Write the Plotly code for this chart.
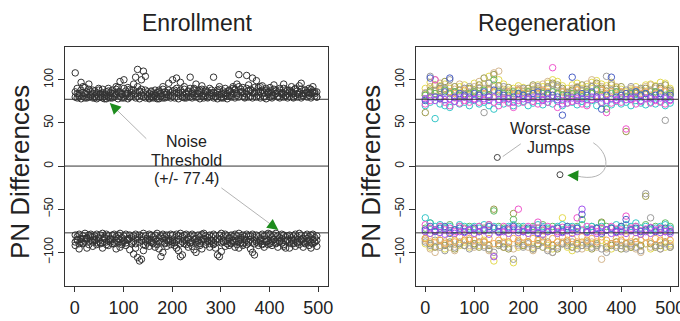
import plotly.graph_objects as go

FONT = "Liberation Sans, Arial, sans-serif"

# ---------------- Enrollment panel data (sample index vs PN difference) ----------------
XE = list(range(1, 501, 4))

enr_up_a = [108, 84, 80, 97, 92, 79, 86, 95, 81, 88,
            79, 83, 90, 80, 85, 78, 82, 87, 79, 84,
            81, 92, 86, 98, 79, 100, 84, 91, 80, 88,
            95, 103, 112, 86, 100, 110, 104, 83, 79, 86,
            80, 84, 78, 88, 81, 92, 79, 85, 96, 82,
            100, 88, 102, 84, 97, 80, 92, 79, 86, 103,
            84, 90, 95, 80, 88, 93, 81, 86, 79, 90,
            85, 103, 80, 88, 92, 79, 84, 90, 81, 87,
            82, 92, 89, 95, 106, 85, 91, 80, 105, 94,
            88, 102, 84, 99, 91, 86, 93, 80, 88, 85,
            91, 82, 94, 87, 80, 90, 84, 95, 81, 88,
            86, 92, 80, 89, 84, 93, 96, 82, 88, 85,
            90, 84, 92, 86, 80]
enr_up_b = [80, 79, 82, 78, 81, 84, 79, 80, 83, 79,
            81, 78, 80, 83, 79, 81, 78, 80, 82, 79,
            80, 83, 78, 81, 84, 79, 82, 78, 80, 81,
            83, 79, 81, 78, 82, 80, 79, 81, 78, 80,
            79, 82, 80, 78, 81, 79, 83, 80, 82, 79,
            81, 79, 85, 78, 82, 80, 79, 83, 81, 80,
            79, 82, 80, 84, 78, 81, 79, 82, 80, 81,
            82, 79, 81, 78, 83, 80, 79, 82, 78, 81,
            80, 84, 79, 82, 80, 86, 81, 79, 83, 80,
            81, 79, 85, 80, 82, 79, 84, 81, 78, 83,
            80, 79, 82, 84, 81, 79, 83, 80, 82, 79,
            81, 84, 79, 82, 80, 83, 79, 81, 84, 80,
            82, 79, 85, 81, 80]
enr_up_c = [86, 90, 84, 88, 85, 91, 83, 89, 86, 84,
            87, 85, 88, 84, 89, 83, 86, 90, 85, 88,
            84, 89, 91, 86, 83, 90, 87, 84, 89, 85,
            88, 84, 92, 87, 89, 85, 88, 86, 84, 87,
            83, 88, 85, 86, 84, 89, 86, 83, 88, 85,
            87, 84, 90, 86, 88, 85, 89, 84, 87, 90,
            86, 88, 84, 87, 85, 89, 84, 88, 86, 84,
            88, 85, 84, 86, 89, 83, 87, 85, 84, 88,
            86, 90, 88, 84, 92, 89, 86, 84, 90, 87,
            89, 85, 91, 87, 86, 92, 88, 85, 90, 86,
            87, 85, 89, 84, 86, 88, 85, 90, 86, 84,
            88, 86, 84, 90, 87, 85, 89, 84, 88, 86,
            85, 89, 87, 84, 86]
enr_lo_a = [-92, -85, -96, -88, -90, -84, -95, -87, -82, -93,
            -86, -91, -84, -89, -95, -83, -88, -92, -85, -90,
            -88, -96, -84, -94, -89, -86, -92, -85, -97, -90,
            -102, -95, -106, -110, -108, -98, -92, -86, -93, -88,
            -90, -94, -87, -96, -105, -100, -89, -93, -86, -91,
            -88, -92, -95, -98, -105, -103, -90, -86, -94, -89,
            -93, -97, -100, -88, -92, -96, -85, -91, -87, -94,
            -86, -90, -95, -103, -105, -99, -88, -93, -87, -92,
            -90, -88, -94, -86, -95, -89, -92, -85, -91, -87,
            -96, -100, -103, -88, -92, -86, -90, -94, -87, -91,
            -88, -92, -85, -90, -94, -87, -89, -93, -95, -86,
            -95, -90, -86, -93, -88, -91, -85, -94, -89, -87,
            -92, -95, -90, -88, -93]
enr_lo_b = [-80, -82, -79, -84, -81, -78, -83, -80, -79, -82,
            -81, -79, -83, -80, -78, -82, -79, -81, -84, -80,
            -79, -82, -80, -78, -83, -81, -79, -84, -80, -82,
            -81, -79, -83, -80, -82, -78, -81, -84, -79, -80,
            -82, -80, -78, -83, -81, -79, -82, -80, -84, -79,
            -80, -83, -79, -81, -78, -82, -80, -79, -83, -81,
            -79, -81, -84, -80, -82, -79, -78, -81, -83, -80,
            -82, -79, -81, -84, -80, -78, -82, -79, -81, -83,
            -80, -82, -79, -81, -78, -83, -80, -82, -79, -81,
            -81, -79, -83, -80, -82, -84, -79, -81, -80, -78,
            -79, -82, -80, -78, -81, -83, -79, -80, -82, -81,
            -80, -83, -81, -79, -82, -78, -80, -84, -81, -79,
            -82, -80, -79, -83, -81]
enr_lo_c = [-88, -86, -90, -85, -89, -87, -84, -91, -86, -88,
            -85, -89, -87, -90, -86, -84, -91, -87, -88, -85,
            -90, -86, -88, -85, -91, -87, -89, -86, -84, -88,
            -87, -90, -85, -88, -86, -91, -87, -89, -85, -86,
            -89, -85, -91, -87, -88, -84, -90, -86, -88, -87,
            -86, -89, -87, -85, -90, -88, -86, -91, -85, -89,
            -88, -85, -89, -86, -90, -87, -84, -88, -86, -90,
            -87, -91, -86, -88, -85, -89, -87, -86, -90, -84,
            -89, -86, -88, -91, -87, -85, -90, -88, -86, -89,
            -85, -88, -90, -86, -89, -87, -91, -85, -88, -86,
            -90, -87, -85, -89, -86, -88, -84, -91, -87, -85,
            -88, -86, -90, -85, -89, -87, -86, -88, -90, -84,
            -87, -89, -85, -88, -86]

# ---------------- Regeneration panel data (several trials, one colour each) ----------------
XR = list(range(0, 501, 10))

yellow_up = [90, 97, 88, 93, 95, 90, 86, 92, 94, 89,
             96, 91, 95, 104, 92, 100, 95, 88, 90, 93,
             91, 87, 89, 94, 92, 96, 100, 98, 93, 90,
             94, 96, 90, 92, 97, 99, 95, 93, 97, 91,
             89, 86, 88, 92, 90, 94, 95, 93, 97, 96, 90]
tan_up = [85, 92, 100, 96, 88, 92, 89, 95, 90, 86,
          92, 98, 90, 96, 108, 110, 89, 85, 87, 90,
          88, 84, 92, 90, 95, 98, 94, 90, 88, 86,
          90, 92, 88, 95, 100, 94, 92, 90, 96, 92,
          86, 84, 90, 88, 86, 92, 94, 90, 92, 88, 86]
olive_up = [62, 88, 94, 90, 98, 86, 92, 88, 84, 90,
            88, 94, 102, 90, 106, 93, 86, 91, 84, 88,
            86, 90, 94, 88, 86, 92, 96, 94, 90, 85,
            88, 91, 94, 89, 92, 96, 90, 87, 94, 89,
            92, 40, 86, 84, 88, 90, 86, 92, 90, 94, 88]
gray_up = [84, 104, 87, 92, 90, 100, 86, 84, 90, 92,
           86, 90, 62, 96, 94, 88, 92, 86, 84, 88,
           90, 86, 88, 92, 84, 90, 94, 92, 86, 84,
           86, 90, 88, 84, 92, 90, 88, 104, 88, 86,
           84, 88, 92, 86, 90, 84, 88, 86, 92, 53, 86]
orange_up = [82, 86, 84, 88, 82, 86, 84, 82, 88, 84,
             86, 82, 84, 88, 86, 82, 84, 86, 82, 88,
             84, 86, 82, 84, 88, 86, 82, 84, 86, 82,
             84, 88, 82, 86, 84, 82, 88, 84, 86, 82,
             86, 84, 82, 88, 84, 86, 82, 84, 88, 86, 84]
green_up = [82, 86, 84, 80, 88, 84, 86, 82, 80, 84,
            86, 84, 88, 82, 100, 86, 84, 82, 86, 84,
            82, 86, 84, 80, 84, 82, 86, 84, 82, 80,
            84, 82, 80, 86, 84, 88, 82, 66, 84, 86,
            82, 80, 84, 86, 82, 84, 80, 86, 84, 82, 84]
cyan_up = [70, 74, 55, 72, 70, 68, 75, 72, 74, 70,
           76, 72, 74, 70, 66, 75, 72, 74, 70, 73,
           75, 70, 73, 76, 71, 74, 72, 75, 70, 73,
           74, 71, 75, 72, 76, 70, 73, 74, 71, 75,
           72, 74, 70, 76, 73, 71, 74, 72, 75, 70, 73]
magenta_up = [72, 76, 100, 78, 74, 70, 79, 73, 76, 74,
              78, 74, 76, 80, 74, 70, 77, 73, 68, 76,
              74, 79, 75, 72, 77, 74, 114, 68, 76, 73,
              75, 78, 72, 70, 77, 80, 74, 62, 73, 76,
              74, 43, 77, 72, 75, 78, 73, 76, 74, 72, 76]
blue_up = [76, 102, 80, 78, 86, 102, 80, 84, 82, 80,
           84, 82, 86, 80, 88, 84, 82, 78, 80, 84,
           82, 80, 84, 86, 80, 84, 82, 80, 59, 82,
           103, 80, 84, 82, 86, 80, 66, 82, 103, 80,
           82, 84, 80, 86, 82, 84, 80, 82, 84, 80, 82]
violet_up = [78, 80, 76, 79, 77, 78, 75, 79, 80, 78,
             77, 79, 78, 76, 80, 77, 79, 78, 74, 79,
             78, 77, 79, 80, 76, 78, 79, 77, 72, 78,
             79, 76, 78, 77, 80, 78, 79, 76, 78, 77,
             79, 77, 78, 80, 76, 79, 78, 77, 79, 78, 77]

yellow_lo = [-90, -94, -88, -92, -96, -90, -86, -92, -88, -94,
             -90, -92, -86, -96, -110, -92, -88, -90, -112, -94,
             -92, -88, -94, -90, -86, -92, -96, -88, -60, -94,
             -98, -92, -88, -94, -90, -92, -86, -90, -96, -88,
             -92, -90, -94, -88, -92, -90, -96, -92, -88, -94, -90]
tan_lo = [-86, -96, -100, -92, -88, -94, -98, -90, -86, -92,
          -94, -88, -92, -98, -104, -90, -94, -88, -96, -92,
          -90, -94, -98, -92, -88, -96, -100, -92, -88, -90,
          -94, -90, -96, -92, -88, -94, -108, -96, -90, -92,
          -88, -94, -92, -96, -100, -90, -94, -92, -96, -88, -92]
olive_lo = [-84, -90, -94, -86, -92, -88, -96, -90, -92, -86,
            -90, -94, -88, -92, -50, -90, -94, -96, -55, -88,
            -92, -88, -96, -90, -94, -88, -92, -96, -90, -88,
            -94, -90, -92, -88, -96, -90, -65, -94, -92, -88,
            -96, -90, -94, -88, -92, -35, -90, -94, -92, -88, -94]
gray_lo = [-88, -92, -86, -94, -98, -90, -94, -88, -92, -96,
           -92, -88, -94, -96, -100, -92, -90, -94, -108, -90,
           -94, -90, -96, -92, -88, -98, -100, -94, -90, -92,
           -88, -96, -92, -90, -94, -92, -96, -100, -90, -94,
           -92, -96, -90, -94, -98, -32, -60, -92, -96, -90, -94]
orange_lo = [-84, -88, -82, -86, -90, -84, -88, -82, -86, -84,
             -86, -82, -88, -84, -90, -86, -82, -88, -84, -86,
             -82, -88, -84, -86, -82, -90, -84, -88, -82, -86,
             -84, -88, -82, -86, -84, -88, -82, -86, -90, -84,
             -86, -82, -88, -84, -86, -82, -88, -84, -86, -82, -86]
green_lo = [-72, -66, -74, -70, -72, -68, -74, -70, -72, -70,
            -74, -70, -72, -68, -52, -70, -72, -74, -62, -70,
            -72, -74, -70, -72, -68, -74, -70, -72, -74, -70,
            -72, -70, -62, -74, -70, -72, -66, -70, -72, -74,
            -70, -72, -74, -70, -72, -68, -74, -70, -72, -66, -70]
cyan_lo = [-60, -66, -70, -68, -72, -70, -74, -68, -70, -72,
           -70, -72, -68, -74, -70, -72, -74, -70, -68, -72,
           -70, -74, -72, -68, -70, -72, -74, -70, -68, -72,
           -70, -72, -68, -74, -70, -72, -70, -74, -72, -68,
           -72, -68, -70, -66, -72, -70, -74, -72, -70, -68, -72]
magenta_lo = [-68, -72, -75, -70, -74, -72, -76, -70, -73, -75,
              -72, -70, -74, -68, -72, -76, -70, -74, -72, -50,
              -74, -70, -72, -65, -74, -70, -73, -76, -71, -74,
              -72, -60, -74, -70, -73, -76, -72, -74, -70, -73,
              -74, -58, -72, -70, -75, -73, -71, -74, -72, -76, -74]
blue_lo = [-74, -70, -76, -72, -70, -78, -74, -72, -76, -74,
           -72, -76, -74, -70, -72, -76, -74, -72, -70, -74,
           -76, -72, -74, -78, -72, -76, -74, -72, -76, -70,
           -74, -72, -56, -76, -74, -72, -78, -74, -72, -76,
           -70, -62, -74, -72, -76, -74, -72, -76, -74, -72, -76]
violet_lo = [-76, -78, -74, -77, -79, -75, -78, -76, -77, -74,
             -78, -76, -75, -79, -105, -77, -76, -78, -74, -77,
             -76, -78, -75, -77, -79, -76, -74, -78, -77, -75,
             -78, -76, -50, -77, -75, -78, -76, -74, -78, -77,
             -76, -78, -75, -77, -79, -76, -78, -75, -77, -76, -78]

regen_up = [yellow_up, tan_up, olive_up, gray_up, orange_up, green_up, cyan_up, magenta_up, blue_up, violet_up]
regen_lo = [yellow_lo, tan_lo, olive_lo, gray_lo, orange_lo, green_lo, cyan_lo, magenta_lo, blue_lo, violet_lo]
regen_colors = ["#e3da4f", "#d4b68e", "#9c9a4c", "#9b9b9b", "#f0a858", "#62bb62",
                "#34c6c8", "#ef55cc", "#4b60c6", "#a355ef"]

# worst-case jumps
jump_x = [147, 275]
jump_y = [10, -10]

threshold = 77.4

fig = go.Figure()

enr_marker = dict(symbol="circle-open", size=6.5, color="#333333", line=dict(width=1, color="#333333"))
for ys in (enr_up_a, enr_up_b, enr_up_c, enr_lo_a, enr_lo_b, enr_lo_c):
    fig.add_trace(go.Scatter(x=XE[:len(ys)], y=ys, mode="markers", marker=enr_marker,
                             xaxis="x", yaxis="y", showlegend=False, hoverinfo="skip"))

for ups, los, col in zip(regen_up, regen_lo, regen_colors):
    for ys in (ups, los):
        fig.add_trace(go.Scatter(x=XR[:len(ys)], y=ys, mode="markers",
                                 marker=dict(symbol="circle-open", size=6.5, color=col, line=dict(width=1, color=col)),
                                 xaxis="x2", yaxis="y2", showlegend=False, hoverinfo="skip"))

fig.add_trace(go.Scatter(x=jump_x, y=jump_y, mode="markers",
                         marker=dict(symbol="circle-open", size=6, color="#444444", line=dict(width=1, color="#444444")),
                         xaxis="x2", yaxis="y2", showlegend=False, hoverinfo="skip"))

# horizontal reference lines
for xr, yr in (("x", "y"), ("x2", "y2")):
    for yv in (threshold, 0, -threshold):
        fig.add_shape(type="line", xref=f"{xr} domain", yref=yr, x0=0, x1=1, y0=yv, y1=yv,
                      line=dict(color="#333333", width=1))

axis_common = dict(showline=True, mirror=True, linecolor="#333333", linewidth=1, ticks="outside",
                   tickcolor="#333333", showgrid=False, zeroline=False, automargin=False)
xt = dict(tickvals=[0, 100, 200, 300, 400, 500], ticklen=5, ticklabeloverflow="allow",
          tickfont=dict(family=FONT, size=18, color="#222"))
yt = dict(tickvals=[-100, -50, 0, 50, 100], tickangle=-90, ticklen=6,
          tickfont=dict(family=FONT, size=12, color="#222"))

ydom = [35 / 321, 274 / 321]
fig.update_layout(
    width=680, height=321, margin=dict(l=0, r=0, t=0, b=0),
    paper_bgcolor="white", plot_bgcolor="white", showlegend=False,
    xaxis=dict(domain=[65 / 680, 328 / 680], range=[-20, 520], anchor="y", **axis_common, **xt),
    yaxis=dict(domain=ydom, range=[-139, 138], anchor="x", **axis_common, **yt),
    xaxis2=dict(domain=[416 / 680, 678 / 680], range=[-19, 516], anchor="y2", **axis_common, **xt),
    yaxis2=dict(domain=ydom, range=[-139, 138], anchor="x2", **axis_common, **yt),
)

# titles
for txt, xp in (("Enrollment", 197), ("Regeneration", 547)):
    fig.add_annotation(text=txt, xref="paper", yref="paper", x=xp / 680, y=1 - 23 / 321,
                       showarrow=False, xanchor="center", yanchor="middle",
                       font=dict(family=FONT, size=23, color="#222"))
for xp in (20, 371):
    fig.add_annotation(text="PN Differences", xref="paper", yref="paper", x=xp / 680, y=1 - 172 / 321,
                       showarrow=False, textangle=-90, xanchor="center", yanchor="middle",
                       font=dict(family=FONT, size=26, color="#222"))

# Noise threshold note
for txt, yv in (("Noise", 28), ("Threshold", 7), ("(+/- 77.4)", -14)):
    fig.add_annotation(text=txt, x=230, y=yv, xref="x", yref="y", showarrow=False,
                       xanchor="center", yanchor="middle", font=dict(family=FONT, size=16, color="#222"))
for txt, yv in (("Worst-case", 44), ("Jumps", 21)):
    fig.add_annotation(text=txt, x=255, y=yv, xref="x2", yref="y2", showarrow=False,
                       xanchor="center", yanchor="middle", font=dict(family=FONT, size=16, color="#222"))

GREEN = "#1d8c1d"
LINEC = "#b4b4b4"


def arrow(xr, yr, tip, tail):
    fig.add_annotation(text="", x=tip[0], y=tip[1], ax=tail[0], ay=tail[1], xref=xr, yref=yr,
                       axref=xr, ayref=yr, showarrow=True, arrowhead=0, arrowwidth=1, arrowcolor=LINEC)
    hx = tip[0] + (tail[0] - tip[0]) * 0.12
    hy = tip[1] + (tail[1] - tip[1]) * 0.12
    fig.add_annotation(text="", x=tip[0], y=tip[1], ax=hx, ay=hy, xref=xr, yref=yr,
                       axref=xr, ayref=yr, showarrow=True, arrowhead=2, arrowsize=1.1,
                       arrowwidth=2, arrowcolor=GREEN)


arrow("x", "y", (72, 73), (150, 30))
arrow("x", "y", (418, -74), (298, -24))
arrow("x2", "y2", (158, 11), (198, 27))

fig.add_shape(type="path", path="M 343,27 C 385,12 378,-22 306,-11", xref="x2", yref="y2",
              line=dict(color=LINEC, width=1))
fig.add_annotation(text="", x=290, y=-10.5, ax=300, ay=-10.8, xref="x2", yref="y2",
                   axref="x2", ayref="y2", showarrow=True, arrowhead=2, arrowsize=1.1,
                   arrowwidth=2, arrowcolor=GREEN)

fig.write_html("out.html", config={"displayModeBar": False},
               post_script="document.body.style.margin='0px';")
